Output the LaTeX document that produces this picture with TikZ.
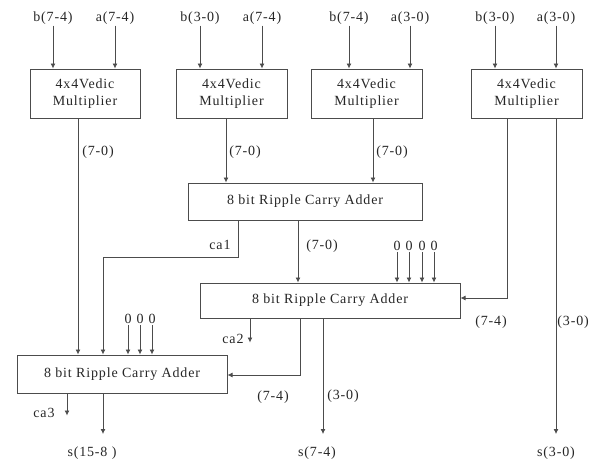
\documentclass[tikz,border=0pt]{standalone}
\usepackage{fontspec}
\setmainfont{Liberation Serif}[LetterSpace=6]
\usetikzlibrary{arrows.meta,calc}

\begin{document}
\begin{tikzpicture}
	[x=1pt,y=-1pt,
	 block/.style={draw=black!70,line width=1pt,align=center,inner sep=0pt,
	   text=black!85,font=\fontsize{14}{17}\selectfont},
	 sig/.style={->,>={Latex[length=5pt,width=5pt]},draw=black!70,line width=0.8pt},
	 tag/.style={inner sep=1pt,text=black!85,font=\fontsize{14}{17}\selectfont}]
	\useasboundingbox (0,0) rectangle (591,461);

	% multipliers
	\node[block,minimum width=110,minimum height=49] (M1) at (85,93.5) {4x4Vedic\\Multiplier};
	\node[block,minimum width=111,minimum height=49] (M2) at (231.5,93.5) {4x4Vedic\\Multiplier};
	\node[block,minimum width=111,minimum height=49] (M3) at (366.5,93.5) {4x4Vedic\\Multiplier};
	\node[block,minimum width=111,minimum height=49] (M4) at (526.5,93.5) {4x4Vedic\\Multiplier};

	% adders
	\node[block,minimum width=234,minimum height=37] (A1) at (305,201.5) {8 bit Ripple Carry Adder};
	\node[block,minimum width=260,minimum height=35] (A2) at (330,300.5) {8 bit Ripple Carry Adder};
	\node[block,minimum width=210,minimum height=38] (A3) at (122,374) {8 bit Ripple Carry Adder};

	% inputs
	\node[tag] (b1) at (53,18) {b(7-4)};
	\node[tag] (a1) at (115,18) {a(7-4)};
	\node[tag] (b2) at (200,18) {b(3-0)};
	\node[tag] (a2) at (262,18) {a(7-4)};
	\node[tag] (b3) at (349,18) {b(7-4)};
	\node[tag] (a3) at (410,18) {a(3-0)};
	\node[tag] (b4) at (495,18) {b(3-0)};
	\node[tag] (a4) at (556,18) {a(3-0)};
	\draw[sig] (b1) -- (b1 |- M1.north);
	\draw[sig] (a1) -- (a1 |- M1.north);
	\draw[sig] (b2) -- (b2 |- M2.north);
	\draw[sig] (a2) -- (a2 |- M2.north);
	\draw[sig] (b3) -- (b3 |- M3.north);
	\draw[sig] (a3) -- (a3 |- M3.north);
	\draw[sig] (b4) -- (b4 |- M4.north);
	\draw[sig] (a4) -- (a4 |- M4.north);

	% taps on the blocks
	\coordinate (m1o) at ([xshift=-7pt]M1.south);
	\coordinate (m2o) at ([xshift=-5.5pt]M2.south);
	\coordinate (m3o) at ([xshift=6.5pt]M3.south);
	\coordinate (m4a) at ([xshift=-19.5pt]M4.south);
	\coordinate (m4b) at ([xshift=29.5pt]M4.south);
	\coordinate (a1c) at ([xshift=-67pt]A1.south);
	\coordinate (a1s) at ([xshift=-7pt]A1.south);
	\coordinate (a2c) at ([xshift=-80pt]A2.south);
	\coordinate (a2h) at ([xshift=-30pt]A2.south);
	\coordinate (a2l) at ([xshift=-7pt]A2.south);
	\coordinate (a3c) at ([xshift=-55pt]A3.south);
	\coordinate (a3s) at ([xshift=-19pt]A3.south);
	\coordinate (a3ci) at ([xshift=-19pt]A3.north);
	\coordinate (outrow) at (0,434);

	% multiplier products
	\draw[sig] (m1o) -- (m1o |- A3.north);
	\draw[sig] (m2o) -- (m2o |- A1.north);
	\draw[sig] (m3o) -- (m3o |- A1.north);
	\draw[sig] (m4a) |- ([yshift=2.5pt]A2.east);
	\draw[sig] (m4b) -- (m4b |- outrow);
	\node[tag] (p1) at (98,152) {(7-0)};
	\node[tag] (p2) at (245,152) {(7-0)};
	\node[tag] (p3) at (392,152) {(7-0)};
	\node[tag] (p4) at (491,322) {(7-4)};
	\node[tag,anchor=east] (p5) at (590,322) {(3-0)};

	% first adder
	\draw[sig] (a1c) -- ++(0,37) -| (a3ci);
	\draw[sig] (a1s) -- (a1s |- A2.north);
	\node[tag] (c1) at (220,245) {ca1};
	\node[tag] (s1) at (322,246) {(7-0)};

	% zero padding
	\node[tag] (z1) at (397,246) {0};
	\node[tag] (z2) at (409,246) {0};
	\node[tag] (z3) at (422,246) {0};
	\node[tag] (z4) at (434,246) {0};
	\draw[sig] (z1) -- (z1 |- A2.north);
	\draw[sig] (z2) -- (z2 |- A2.north);
	\draw[sig] (z3) -- (z3 |- A2.north);
	\draw[sig] (z4) -- (z4 |- A2.north);
	\node[tag] (z5) at (128,319) {0};
	\node[tag] (z6) at (140,319) {0};
	\node[tag] (z7) at (152,319) {0};
	\draw[sig] (z5) -- (z5 |- A3.north);
	\draw[sig] (z6) -- (z6 |- A3.north);
	\draw[sig] (z7) -- (z7 |- A3.north);

	% second adder
	\draw[sig] (a2c) -- ++(0,24);
	\draw[sig] (a2h) |- ([yshift=-1pt]A3.east);
	\draw[sig] (a2l) -- (a2l |- outrow);
	\node[tag] (c2) at (233,339) {ca2};
	\node[tag] (h2) at (273,397) {(7-4)};
	\node[tag] (l2) at (343,396) {(3-0)};

	% third adder
	\draw[sig] (a3c) -- ++(0,22);
	\draw[sig] (a3s) -- (a3s |- outrow);
	\node[tag] (c3) at (44,413) {ca3};

	% results
	\node[tag] (r1) at (92,453) {s(15-8 )};
	\node[tag] (r2) at (317,453) {s(7-4)};
	\node[tag] (r3) at (556,453) {s(3-0)};
\end{tikzpicture}
\end{document}
